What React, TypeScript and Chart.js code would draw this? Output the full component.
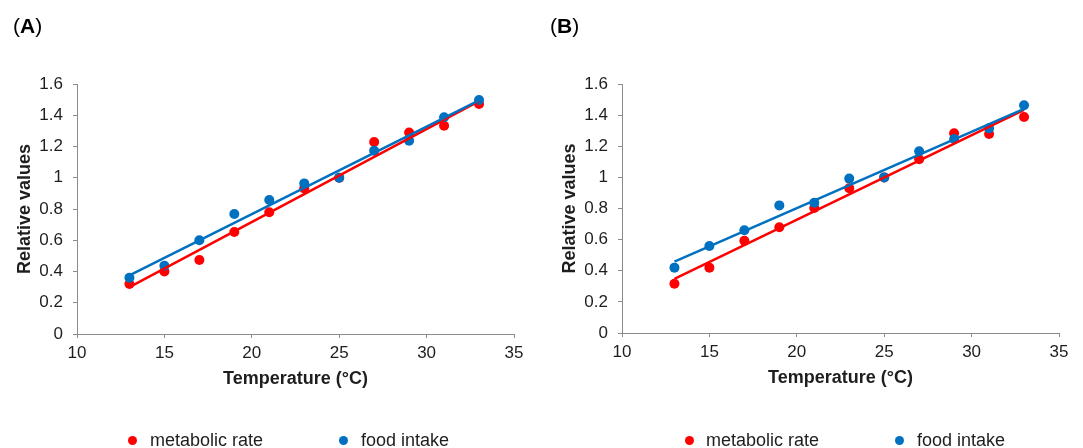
import React, { useEffect, useRef } from 'react';
import { Chart, registerables } from 'chart.js';

Chart.register(...registerables);

// ---- data ----
const temperatures = [13, 15, 17, 19, 21, 23, 25, 27, 29, 31, 33];

const metabolicA = [0.32, 0.40, 0.474, 0.653, 0.779, 0.932, 1.0, 1.229, 1.29, 1.333, 1.472];
const foodA = [0.36, 0.437, 0.60, 0.768, 0.858, 0.964, 1.0, 1.173, 1.237, 1.387, 1.498];

const metabolicB = [0.317, 0.42, 0.593, 0.679, 0.803, 0.93, 1.0, 1.116, 1.283, 1.279, 1.388];
const foodB = [0.42, 0.559, 0.66, 0.82, 0.837, 0.992, 1.0, 1.168, 1.247, 1.315, 1.463];

// trend line end points (x = first / last temperature)
const trendX = [13, 33];
const trendMetabolicA = [0.30, 1.49];
const trendFoodA = [0.375, 1.495];
const trendMetabolicB = [0.347, 1.433];
const trendFoodB = [0.458, 1.44];

const xTickValues = [10, 15, 20, 25, 30, 35];
const yTickValues = [0, 0.2, 0.4, 0.6, 0.8, 1, 1.2, 1.4, 1.6];

const seriesNames = ['metabolic rate', 'food intake'];
const panelLetters = ['A', 'B'];

// ---- styles ----
const RED = '#FF0000';
const BLUE = '#0070C0';
const AXIS = '#8C8C8C';
const TEXT = '#1E1E1E';
const FONT = '"Liberation Sans", Arial, Helvetica, sans-serif';

type PanelProps = {
  letter: string;
  metabolic: number[];
  food: number[];
  trendM: number[];
  trendF: number[];
  left: number;
  width: number;
  padLeft: number;
  padRight: number;
  padBottom: number;
  letterLeft: number;
  legendPos: { dot: number; text: number }[];
};

function Panel(p: PanelProps) {
  const ref = useRef<HTMLCanvasElement>(null);
  useEffect(() => {
    const pts = (vals: number[]) => temperatures.map((x, i) => ({ x, y: vals[i] }));
    const line = (vals: number[]) => trendX.map((x, i) => ({ x, y: vals[i] }));
    const chart = new Chart(ref.current as HTMLCanvasElement, {
      type: 'scatter',
      data: {
        datasets: [
          {
            label: seriesNames[1] + ' trend',
            data: line(p.trendF),
            showLine: true,
            borderColor: BLUE,
            borderWidth: 2.5,
            pointRadius: 0,
            fill: false,
          },
          {
            label: seriesNames[0] + ' trend',
            data: line(p.trendM),
            showLine: true,
            borderColor: RED,
            borderWidth: 2.5,
            pointRadius: 0,
            fill: false,
          },
          {
            label: seriesNames[1],
            data: pts(p.food),
            backgroundColor: BLUE,
            borderColor: BLUE,
            borderWidth: 0,
            pointRadius: 5,
          },
          {
            label: seriesNames[0],
            data: pts(p.metabolic),
            backgroundColor: RED,
            borderColor: RED,
            borderWidth: 0,
            pointRadius: 5,
          },
        ],
      } as any,
      options: {
        responsive: false,
        animation: false,
        events: [],
        layout: { padding: { left: p.padLeft, top: 84, right: p.padRight, bottom: p.padBottom } },
        plugins: { legend: { display: false }, tooltip: { enabled: false }, title: { display: false } },
        scales: {
          x: {
            type: 'linear',
            min: xTickValues[0],
            max: xTickValues[xTickValues.length - 1],
            afterBuildTicks: (s: any) => {
              s.ticks = xTickValues.map((v) => ({ value: v }));
            },
            ticks: {
              padding: 5,
              color: TEXT,
              font: { family: FONT, size: 17 },
              callback: (v: any) => String(v),
              maxRotation: 0,
            },
            grid: { drawOnChartArea: false, drawTicks: true, tickLength: 4, color: AXIS, lineWidth: 1 },
            border: { display: true, color: AXIS, width: 1 },
            title: {
              display: true,
              text: 'Temperature (°C)',
              color: TEXT,
              font: { family: FONT, size: 18, weight: 'bold' },
              padding: { top: 0, bottom: 0 },
            },
            afterFit: (s: any) => {
              s.height = 56;
            },
          },
          y: {
            type: 'linear',
            min: yTickValues[0],
            max: yTickValues[yTickValues.length - 1],
            afterBuildTicks: (s: any) => {
              s.ticks = yTickValues.map((v) => ({ value: v }));
            },
            ticks: {
              padding: 10,
              color: TEXT,
              font: { family: FONT, size: 17 },
              callback: (v: any) => String(Math.round(Number(v) * 10) / 10),
            },
            grid: { drawOnChartArea: false, drawTicks: true, tickLength: 4, color: AXIS, lineWidth: 1 },
            border: { display: true, color: AXIS, width: 1 },
            title: {
              display: true,
              text: 'Relative values',
              color: TEXT,
              font: { family: FONT, size: 18, weight: 'bold' },
              padding: { top: 6, bottom: 0 },
            },
            afterFit: (s: any) => {
              s.width = 69;
            },
          },
        },
      } as any,
    });
    return () => chart.destroy();
  }, []);

  const colors = [RED, BLUE];
  return (
    <>
      <canvas
        ref={ref}
        width={p.width}
        height={448}
        style={{ position: 'absolute', left: p.left, top: 0, width: p.width, height: 448 }}
      />
      <div
        style={{
          position: 'absolute',
          left: p.letterLeft,
          top: 13,
          fontFamily: FONT,
          fontSize: 21,
          lineHeight: '26px',
          color: '#000',
        }}
      >
        (<b>{p.letter}</b>)
      </div>
      {seriesNames.map((name, i) => (
        <React.Fragment key={name}>
          <div
            style={{
              position: 'absolute',
              left: p.legendPos[i].dot - 4.5,
              top: 440 - 4.5,
              width: 9,
              height: 9,
              borderRadius: '50%',
              background: colors[i],
            }}
          />
          <div
            style={{
              position: 'absolute',
              left: p.legendPos[i].text,
              top: 430,
              fontFamily: FONT,
              fontSize: 18,
              lineHeight: '20px',
              color: TEXT,
              whiteSpace: 'nowrap',
            }}
          >
            {name}
          </div>
        </React.Fragment>
      ))}
    </>
  );
}

export default function App() {
  return (
    <div
      style={{
        position: 'absolute',
        left: 0,
        top: 0,
        width: 1083,
        height: 448,
        overflow: 'hidden',
        background: '#fff',
      }}
    >
      <Panel
        letter={panelLetters[0]}
        metabolic={metabolicA}
        food={foodA}
        trendM={trendMetabolicA}
        trendF={trendFoodA}
        left={0}
        width={541}
        padLeft={8}
        padRight={27}
        padBottom={58}
        letterLeft={13}
        legendPos={[
          { dot: 132, text: 150 },
          { dot: 343, text: 361 },
        ]}
      />
      <Panel
        letter={panelLetters[1]}
        metabolic={metabolicB}
        food={foodB}
        trendM={trendMetabolicB}
        trendF={trendFoodB}
        left={541}
        width={542}
        padLeft={12}
        padRight={24}
        padBottom={59}
        letterLeft={550}
        legendPos={[
          { dot: 689, text: 706 },
          { dot: 899, text: 917 },
        ]}
      />
    </div>
  );
}
